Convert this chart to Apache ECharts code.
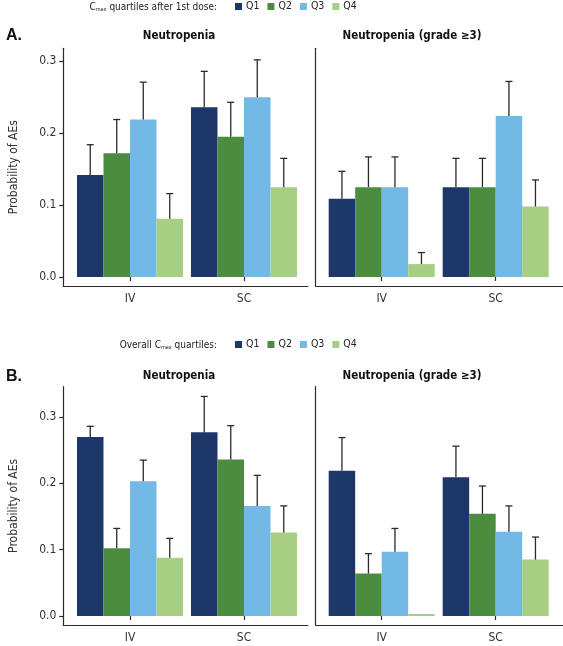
<!DOCTYPE html>
<html><head><meta charset="utf-8">
<script src="https://cdn.jsdelivr.net/npm/echarts@6/dist/echarts.min.js"></script>
<style>html,body{margin:0;padding:0;background:#fff}#c{width:563px;height:646px}</style>
</head><body><div id="c"></div>
<script>
// ---------- data ----------
const categories = ['IV', 'SC'];
const quartiles = ['Q1', 'Q2', 'Q3', 'Q4'];
const yTicks = [0, 0.1, 0.2, 0.3];
const panelTitles = ['Neutropenia', 'Neutropenia (grade \u22653)'];
// values indexed [quartile][category]; upper = top of error bar
const aNeutMean  = [[0.142, 0.236], [0.172, 0.195], [0.219, 0.250], [0.081, 0.125]];
const aNeutUpper = [[0.184, 0.286], [0.219, 0.243], [0.271, 0.302], [0.116, 0.165]];
const aG3Mean    = [[0.109, 0.125], [0.125, 0.125], [0.125, 0.224], [0.018, 0.098]];
const aG3Upper   = [[0.147, 0.165], [0.167, 0.165], [0.167, 0.272], [0.034, 0.135]];
const bNeutMean  = [[0.270, 0.277], [0.102, 0.236], [0.203, 0.166], [0.088, 0.126]];
const bNeutUpper = [[0.286, 0.331], [0.132, 0.287], [0.235, 0.212], [0.117, 0.166]];
const bG3Mean    = [[0.219, 0.209], [0.064, 0.154], [0.097, 0.127], [0.003, 0.085]];
const bG3Upper   = [[0.269, 0.256], [0.094, 0.196], [0.132, 0.166], [0.003, 0.119]];
const colors = ['#1d3768', '#4c8c3e', '#72b9e5', '#a6cf84'];

// ---------- layout ----------
const FONT = "'Liberation Sans Narrow', 'DejaVu Sans Condensed', sans-serif";
const TXT = '#333';
const panels = [
  {mean: aNeutMean, upper: aNeutUpper, frame: {left: 63.3, top: 48.3, width: 244.7, height: 237.7}, bar: {left: 73, top: 61.3, width: 228, height: 215.7}, yLabels: true},
  {mean: aG3Mean, upper: aG3Upper, frame: {left: 315.7, top: 48.3, width: 247.3, height: 237.7}, bar: {left: 324.7, top: 61.3, width: 228, height: 215.7}, yLabels: false},
  {mean: bNeutMean, upper: bNeutUpper, frame: {left: 63.3, top: 386.7, width: 244.7, height: 238.3}, bar: {left: 73, top: 417, width: 228, height: 199}, yLabels: true},
  {mean: bG3Mean, upper: bG3Upper, frame: {left: 315.7, top: 386.7, width: 247.3, height: 238.3}, bar: {left: 324.7, top: 417, width: 228, height: 199}, yLabels: false}
];
const BAR_CAT_GAP = 0.07;

const grid = [], xAxis = [], yAxis = [], series = [];
panels.forEach((p, i) => {
  grid.push(Object.assign({}, p.frame));
});
panels.forEach((p, i) => {
  grid.push(Object.assign({}, p.bar));
});
const axisLineStyle = {color: '#2a2a2a', width: 1.2};
panels.forEach((p, i) => {
  xAxis.push({gridIndex: i, type: 'value', min: 0, max: 1, axisLine: {show: true, onZero: false, lineStyle: axisLineStyle},
    axisTick: {show: false}, axisLabel: {show: false}, splitLine: {show: false}});
  yAxis.push({gridIndex: i, type: 'value', min: 0, max: 1, axisLine: {show: true, lineStyle: axisLineStyle},
    axisTick: {show: false}, axisLabel: {show: false}, splitLine: {show: false},
    name: p.yLabels ? 'Probability of AEs' : '', nameLocation: 'middle', nameGap: 43,
    nameTextStyle: {fontFamily: FONT, fontSize: 12, color: TXT}});
});
panels.forEach((p, i) => {
  xAxis.push({gridIndex: 4 + i, type: 'category', data: categories, offset: 9,
    axisLine: {show: false}, axisTick: {show: true, alignWithLabel: true, length: 4, lineStyle: {color: '#2a2a2a', width: 1.2}},
    axisLabel: {fontFamily: FONT, fontSize: 12, color: TXT, margin: 7}, splitLine: {show: false}});
  yAxis.push({gridIndex: 4 + i, type: 'value', min: yTicks[0], max: yTicks[yTicks.length - 1], interval: 0.1,
    offset: p.bar.left - p.frame.left, show: p.yLabels,
    axisLine: {show: false}, axisTick: {show: true, length: 4, lineStyle: {color: '#2a2a2a', width: 1.2}},
    axisLabel: {fontFamily: FONT, fontSize: 12, color: TXT, margin: 7, formatter: v => v.toFixed(1)},
    splitLine: {show: false}});
  quartiles.forEach((q, qi) => {
    series.push({type: 'bar', name: q, xAxisIndex: 4 + i, yAxisIndex: 4 + i, data: p.mean[qi],
      barGap: '0%', barCategoryGap: (BAR_CAT_GAP * 100) + '%', itemStyle: {color: colors[qi]}, silent: true});
  });
  const errData = [];
  quartiles.forEach((q, qi) => categories.forEach((c, ci) => errData.push([ci, qi, p.mean[qi][ci], p.upper[qi][ci]])));
  series.push({type: 'custom', xAxisIndex: 4 + i, yAxisIndex: 4 + i, data: errData, clip: false, z: 5, silent: true,
    encode: {x: 0, y: 2},
    renderItem: function (params, api) {
      const c = api.value(0), qi = api.value(1), lo = api.value(2), hi = api.value(3);
      if (!(hi > lo)) return {type: 'group', children: []};
      const base = api.coord([c, lo]);
      const top = api.coord([c, hi]);
      const band = api.size([1, 0])[0];
      const bw = band * (1 - BAR_CAT_GAP) / 4;
      const x = base[0] + (qi - 1.5) * bw;
      const cap = 3.5;
      const st = {stroke: '#2a2a2a', lineWidth: 1.3};
      return {type: 'group', children: [
        {type: 'line', shape: {x1: x, y1: base[1], x2: x, y2: top[1]}, style: st},
        {type: 'line', shape: {x1: x - cap, y1: top[1], x2: x + cap, y2: top[1]}, style: st}
      ]};
    }});
});

const legendCommon = {data: quartiles, icon: 'rect', itemWidth: 7, itemHeight: 7, itemGap: 8, selectedMode: false,
  textStyle: {fontFamily: FONT, fontSize: 10.5, color: '#222', padding: [0, 0, 0, -1]}};
const legend = [
  Object.assign({left: 230, top: -4}, legendCommon),
  Object.assign({left: 230, top: 334}, legendCommon)
];
const subRich = {s: {fontFamily: FONT, fontSize: 5.5, color: '#222', padding: [5, 0, 0, 0]}};
const legTitleStyle = {fontFamily: FONT, fontSize: 10, fontWeight: 'normal', color: '#222', rich: subRich};
const title = [
  {text: 'C{s|max} quartiles after 1st dose:', right: 341, top: -3, textStyle: legTitleStyle},
  {text: 'Overall C{s|max} quartiles:', right: 341, top: 335, textStyle: legTitleStyle},
  {text: 'A.', left: 1, top: 23, textStyle: {fontFamily: 'Liberation Sans, Arial, sans-serif', fontSize: 16, fontWeight: 'bold', color: '#111'}},
  {text: 'B.', left: 1, top: 364, textStyle: {fontFamily: 'Liberation Sans, Arial, sans-serif', fontSize: 16, fontWeight: 'bold', color: '#111'}},
  {text: panelTitles[0], left: 174, textAlign: 'center', top: 25, textStyle: {fontFamily: FONT, fontSize: 11.5, fontWeight: 'bold', color: '#111'}},
  {text: panelTitles[1], left: 407, textAlign: 'center', top: 25, textStyle: {fontFamily: FONT, fontSize: 11.5, fontWeight: 'bold', color: '#111'}},
  {text: panelTitles[0], left: 174, textAlign: 'center', top: 365, textStyle: {fontFamily: FONT, fontSize: 11.5, fontWeight: 'bold', color: '#111'}},
  {text: panelTitles[1], left: 407, textAlign: 'center', top: 365, textStyle: {fontFamily: FONT, fontSize: 11.5, fontWeight: 'bold', color: '#111'}}
];

const chart = echarts.init(document.getElementById('c'), null, {renderer: 'canvas'});
chart.setOption({animation: false, backgroundColor: '#fff', title, legend, grid, xAxis, yAxis, series});
</script></body></html>
